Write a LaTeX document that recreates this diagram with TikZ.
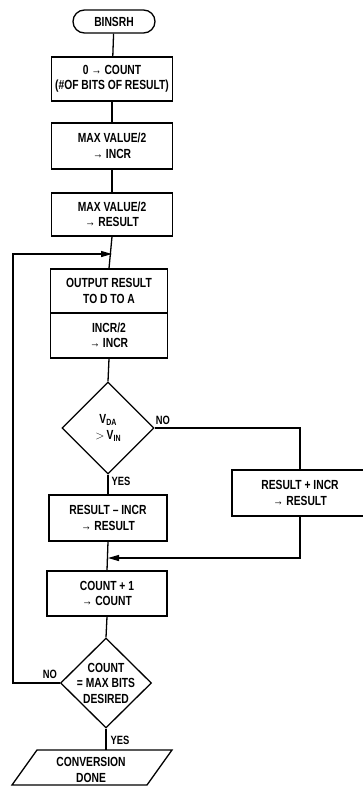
\documentclass[tikz,border=0pt]{standalone}
\usepackage{fontspec}
\setmainfont{Liberation Sans}[FakeStretch=0.78]
\usetikzlibrary{arrows.meta,shapes.geometric}
\newcommand{\subtx}[1]{\raisebox{-2pt}{\fontsize{9}{9}\selectfont #1}}
\begin{document}
\begin{tikzpicture}[x=1pt,y=-1pt,line width=1.3pt,
  every node/.style={font=\bfseries\fontsize{13.2}{15.5}\selectfont,align=center,inner sep=0pt},
  procbox/.style={draw,rectangle,minimum width=120pt},
  dia/.style={draw,diamond,aspect=1,inner sep=0pt},
  lbl/.style={font=\bfseries\fontsize{12}{12}\selectfont},
  arr/.style={-{Triangle[length=11pt,width=6pt]}}]
\useasboundingbox (0,0) rectangle (363,796);
\clip (0,0) rectangle (363,796);
% nodes
\node[draw,rounded corners=11.5pt,minimum width=82pt,minimum height=23pt] (term) at (114,21.5) {BINSRH};
\node[procbox,minimum width=121pt,minimum height=44pt] (b1) at (112,79) {0 → COUNT\\(\#OF BITS OF RESULT)};
\node[procbox,minimum width=121pt,minimum height=46pt] (b2) at (112,146) {MAX VALUE/2\\→ INCR};
\node[procbox,minimum width=121pt,minimum height=43pt] (b3) at (112,214.5) {MAX VALUE/2\\→ RESULT};
\node[procbox,minimum width=117pt,minimum height=44pt] (o1) at (109,291) {OUTPUT RESULT\\TO D TO A};
\node[procbox,minimum width=117pt,minimum height=45pt] (o2) at (109,335.5) {INCR/2\\→ INCR};
\node[dia,minimum width=92pt,minimum height=92pt] (d1) at (108,428) {};
\node (d1t) at (108,428) {V\subtx{DA}\\$>$\,V\subtx{IN}};
\node[procbox,minimum width=118pt,minimum height=46pt] (b6) at (108,518) {RESULT -- INCR\\→ RESULT};
\node[procbox,minimum width=136pt,minimum height=46pt] (b5) at (300,493) {RESULT + INCR\\→ RESULT};
\node[procbox,minimum width=120pt,minimum height=45pt] (b7) at (107,593.5) {COUNT + 1\\→ COUNT};
\node[dia,minimum width=91pt,minimum height=90pt] (d2) at (106,683) {};
\node (d2t) at (106,683) {COUNT\\= MAX BITS\\DESIRED};
\node (done) at (91,770) {CONVERSION\\DONE};
\draw (37,750) -- (172,750) -- (147,785) -- (12,785) -- cycle;
\coordinate (donetop) at (106,750);
\coordinate (lp) at (112,254);
\coordinate (lx) at (13,254);
\coordinate (mp) at (108,558);
% labels
\node[lbl] (no1) at (163,420) {NO};
\node[lbl,anchor=west] (yes1) at (111,481) {YES};
\node[lbl] (no2) at (50,674) {NO};
\node[lbl,anchor=west] (yes2) at (110,740) {YES};
% connectors
\draw (term) -- (b1);
\draw (b1) -- (b2);
\draw (b2) -- (b3);
\draw (b3.south) -- (o1.north);
\draw (o2.south) -- (d1.north);
\draw (d1.south) -- (b6.north);
\draw (d1.east) -| (b5.north);
\draw[arr] (b5.south) |- (mp);
\draw (b6.south) -- (b7.north);
\draw (b7.south) -- (d2.north);
\draw (d2.south) -- (donetop);
\draw[arr] (d2.west) -| (lx) -- (lp);
\end{tikzpicture}
\end{document}
